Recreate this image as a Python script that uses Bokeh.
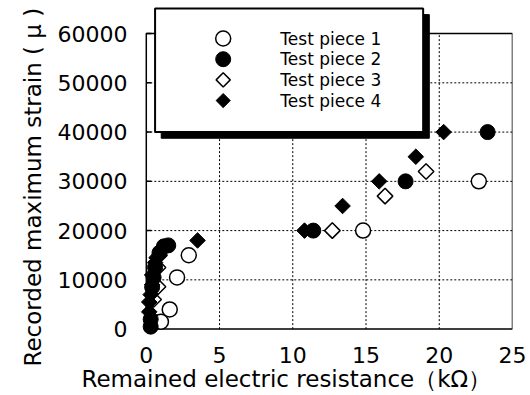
import math
from bokeh.plotting import figure
from bokeh.models import Range1d, FixedTicker, BoxAnnotation, Title
from bokeh.core.properties import value
from bokeh.embed import file_html
from bokeh.resources import INLINE

# Remained electric resistance (kOhm) vs recorded maximum strain (micro)
tp1_x = [1.0, 1.6, 2.1, 2.9, 14.8, 22.7]
tp1_y = [1500, 4000, 10500, 15000, 20000, 30000]

tp2_x = [0.3, 0.3, 0.4, 0.5, 0.6, 0.9, 1.2, 1.5, 11.4, 17.7, 23.3]
tp2_y = [500, 2000, 8500, 10500, 12500, 15500, 16800, 17000, 20000, 30000, 40000]

tp3_x = [0.5, 0.8, 0.8, 0.9, 12.7, 16.3, 19.1]
tp3_y = [6000, 8600, 12500, 15000, 20000, 27000, 32000]

tp4_x = [0.2, 0.2, 0.3, 0.4, 0.4, 0.6, 0.7, 3.5, 10.8, 13.4, 15.9, 18.4, 20.3]
tp4_y = [3500, 5500, 7000, 9000, 11000, 13500, 14500, 18000, 20000, 25000, 30000, 35000, 40000]

labels = ["Test piece 1", "Test piece 2", "Test piece 3", "Test piece 4"]
x_ticks = [0, 5, 10, 15, 20, 25]
y_ticks = [0, 10000, 20000, 30000, 40000, 50000, 60000]
x_grid = [5, 10, 15, 20]
y_grid = [10000, 20000, 30000, 40000, 50000]

FONT = "DejaVu Sans"
X0, X1, Y0, Y1 = 0, 25, 0, 60000

# the frame reaches a little beyond the axes box so markers at the origin
# and the raised legend box are not clipped
p = figure(width=530, height=395, output_backend="svg", toolbar_location=None,
           x_range=Range1d(-0.6, X1), y_range=Range1d(-1500, 65700),
           min_border_left=137, min_border_right=18,
           min_border_top=5, min_border_bottom=59)
p.outline_line_color = None
p.xgrid.visible = False
p.ygrid.visible = False

for ax in (p.xaxis[0], p.yaxis[0]):
    ax.axis_line_color = None
    ax.major_tick_line_color = None
    ax.minor_tick_line_color = None
    ax.major_label_text_font = FONT
    ax.major_label_text_color = "black"
    ax.major_label_text_font_size = "22px"

p.xaxis.bounds = (X0, X1)
p.yaxis.bounds = (Y0, Y1)
p.xaxis.ticker = FixedTicker(ticks=x_ticks)
p.yaxis.ticker = FixedTicker(ticks=y_ticks)
p.xaxis.major_label_standoff = 4
p.yaxis.major_label_standoff = 4

p.add_layout(Title(text="Remained electric resistance（kΩ）", align="left",
                   offset=-56, text_font=FONT, text_font_style="normal",
                   text_font_size="23px", text_color="black", standoff=-4),
             "below")
p.add_layout(Title(text="Recorded maximum strain ( μ )", align="left",
                   offset=-30, text_font=FONT, text_font_style="normal",
                   text_font_size="23px", text_color="black", standoff=18),
             "left")

# dotted grid, kept inside the axes box
p.segment(x0=x_grid, y0=[Y0] * len(x_grid), x1=x_grid, y1=[Y1] * len(x_grid),
          line_color="black", line_dash="2 2", line_width=1)
p.segment(x0=[X0] * len(y_grid), y0=y_grid, x1=[X1] * len(y_grid), y1=y_grid,
          line_color="black", line_dash="2 2", line_width=1)

# short inward tick marks on the left axis
p.segment(x0=[X0] * len(y_ticks), y0=y_ticks, x1=[X0 + 0.35] * len(y_ticks), y1=y_ticks,
          line_color="black", line_width=1.5)

# axes box
p.add_layout(BoxAnnotation(left=X0, right=X1, bottom=Y0, top=Y1, fill_alpha=0,
                           line_color="black", line_alpha=1, line_width=1.5,
                           level="underlay"))

D = math.pi / 4
p.scatter(tp1_x, tp1_y, marker="circle", size=15, fill_color="white",
          line_color="black", line_width=1.5)
p.scatter(tp3_x, tp3_y, marker="square", angle=D, size=11, fill_color="white",
          line_color="black", line_width=1.5)
p.scatter(tp2_x, tp2_y, marker="circle", size=15, fill_color="black",
          line_color="black", line_width=1)
p.scatter(tp4_x, tp4_y, marker="square", angle=D, size=11, fill_color="black",
          line_color="black", line_width=1)

# legend: drop-shadowed box with marker keys and labels
LX0, LX1, LY0, LY1 = 0.6, 18.9, 40000, 65100
SH_DX, SH_DY = 0.42, 1250
p.add_layout(BoxAnnotation(left=LX0 + SH_DX, right=LX1 + SH_DX,
                           bottom=LY0 - SH_DY, top=LY1 - SH_DY,
                           fill_color="black", fill_alpha=1,
                           line_color="black", line_alpha=1))
p.add_layout(BoxAnnotation(left=LX0, right=LX1, bottom=LY0, top=LY1,
                           fill_color="white", fill_alpha=1,
                           line_color="black", line_alpha=1, line_width=2))

key_x = 5.25
row_y = [59000, 54800, 50600, 46400]
p.scatter([key_x], [row_y[0]], marker="circle", size=15, fill_color="white",
          line_color="black", line_width=1.5, level="overlay")
p.scatter([key_x], [row_y[1]], marker="circle", size=15, fill_color="black",
          line_color="black", line_width=1, level="overlay")
p.scatter([key_x], [row_y[2]], marker="square", angle=D, size=10, fill_color="white",
          line_color="black", line_width=1.5, level="overlay")
p.scatter([key_x], [row_y[3]], marker="square", angle=D, size=10, fill_color="black",
          line_color="black", line_width=1, level="overlay")
p.text(x=[9.15] * 4, y=row_y, text=labels, text_font=value(FONT),
       text_font_size="17px", text_color="black", text_baseline="middle",
       text_align="left", level="overlay")

open("out.html", "w").write(file_html(p, INLINE))
